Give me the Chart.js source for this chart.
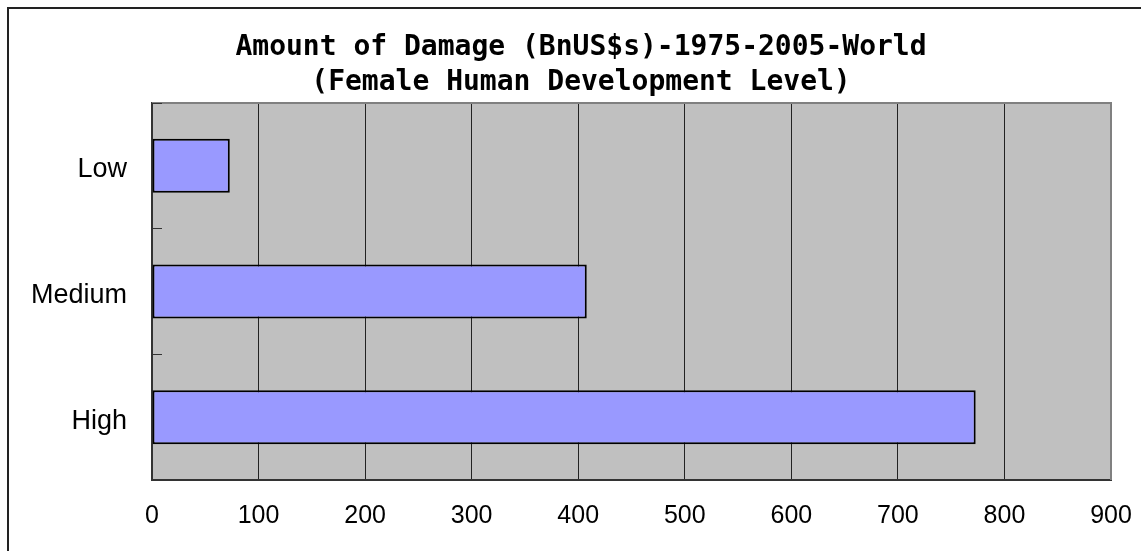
<!DOCTYPE html>
<html>
<head>
<meta charset="utf-8">
<script src="https://cdn.jsdelivr.net/npm/chart.js@4/dist/chart.umd.min.js"></script>
<style>
  html, body { margin: 0; padding: 0; background: #fff; }
  #wrap { width: 1141px; height: 551px; }
</style>
</head>
<body>
<div id="wrap"><canvas id="barChart" width="1141" height="551"></canvas></div>
<script>
// data
var levels = ["Low", "Medium", "High"];
var damage = [73, 408, 773];
var xTicks = [0, 100, 200, 300, 400, 500, 600, 700, 800, 900];
var titleLines = ["Amount of Damage (BnUS$s)-1975-2005-World", "(Female Human Development Level)"];

// grey plot background, grey top/right edge and the outer frame
var frame = {
    id: "frame",
    beforeDraw: function (chart) {
        var c = chart.ctx, a = chart.chartArea;
        c.save();
        c.fillStyle = "#fff";
        c.fillRect(0, 0, chart.width, chart.height);
        c.strokeStyle = "#222";
        c.lineWidth = 2;
        c.beginPath();
        c.moveTo(8, chart.height);
        c.lineTo(8, 8);
        c.lineTo(chart.width, 8);
        c.stroke();
        c.fillStyle = "#c0c0c0";
        c.fillRect(a.left, a.top, a.right - a.left, a.bottom - a.top);
        c.restore();
    },
    afterDatasetsDraw: function (chart) {
        var c = chart.ctx, a = chart.chartArea;
        c.save();
        c.strokeStyle = "#808080";
        c.lineWidth = 2;
        c.beginPath();
        c.moveTo(a.left, a.top);
        c.lineTo(a.right, a.top);
        c.lineTo(a.right, a.bottom);
        c.stroke();
        // short inner tick at the top edge, like the other category ticks
        c.strokeStyle = "#333";
        c.lineWidth = 1;
        c.beginPath();
        c.moveTo(a.left, a.top + 0.5);
        c.lineTo(a.left + 10, a.top + 0.5);
        c.stroke();
        c.restore();
    }
};

var barChart = new Chart(document.getElementById("barChart"), {
    type: "bar",
    data: {
        labels: levels,
        datasets: [{
            label: "Damage",
            data: damage,
            backgroundColor: "#9999ff",
            borderColor: "#000",
            borderWidth: 2,
            borderSkipped: false,
            categoryPercentage: 1,
            barPercentage: 0.43
        }]
    },
    options: {
        indexAxis: "y",
        responsive: false,
        animation: false,
        devicePixelRatio: 1,
        layout: { padding: { left: 21, right: 0, top: 10, bottom: 0 } },
        plugins: {
            legend: { display: false },
            tooltip: { enabled: false },
            title: {
                display: true,
                text: titleLines,
                color: "#000",
                font: { family: "'DejaVu Sans Mono', monospace", size: 28, weight: "bold", lineHeight: 1.25 },
                padding: { top: 20, bottom: 3 }
            }
        },
        scales: {
            x: {
                min: 0,
                max: 900,
                afterBuildTicks: function (scale) {
                    scale.ticks = xTicks.map(function (v) { return { value: v }; });
                },
                afterFit: function (scale) {
                    scale.height = 71;
                    scale.paddingLeft = 0;
                    scale.paddingRight = 30;
                },
                grid: { color: "#222", lineWidth: 1, drawTicks: false },
                border: { display: true, color: "#333", width: 2 },
                ticks: {
                    color: "#000",
                    padding: 21,
                    maxRotation: 0,
                    font: { family: "'Liberation Sans', Arial, sans-serif", size: 25 }
                }
            },
            y: {
                afterFit: function (scale) { scale.width = 131; },
                grid: { offset: true, drawOnChartArea: false, drawTicks: true, tickLength: -10, color: "#333", lineWidth: 1 },
                border: { display: true, color: "#333", width: 2 },
                ticks: {
                    color: "#000",
                    padding: 35,
                    labelOffset: 4,
                    font: { family: "'Liberation Sans', Arial, sans-serif", size: 27 }
                }
            }
        }
    },
    plugins: [frame]
});
</script>
</body>
</html>
